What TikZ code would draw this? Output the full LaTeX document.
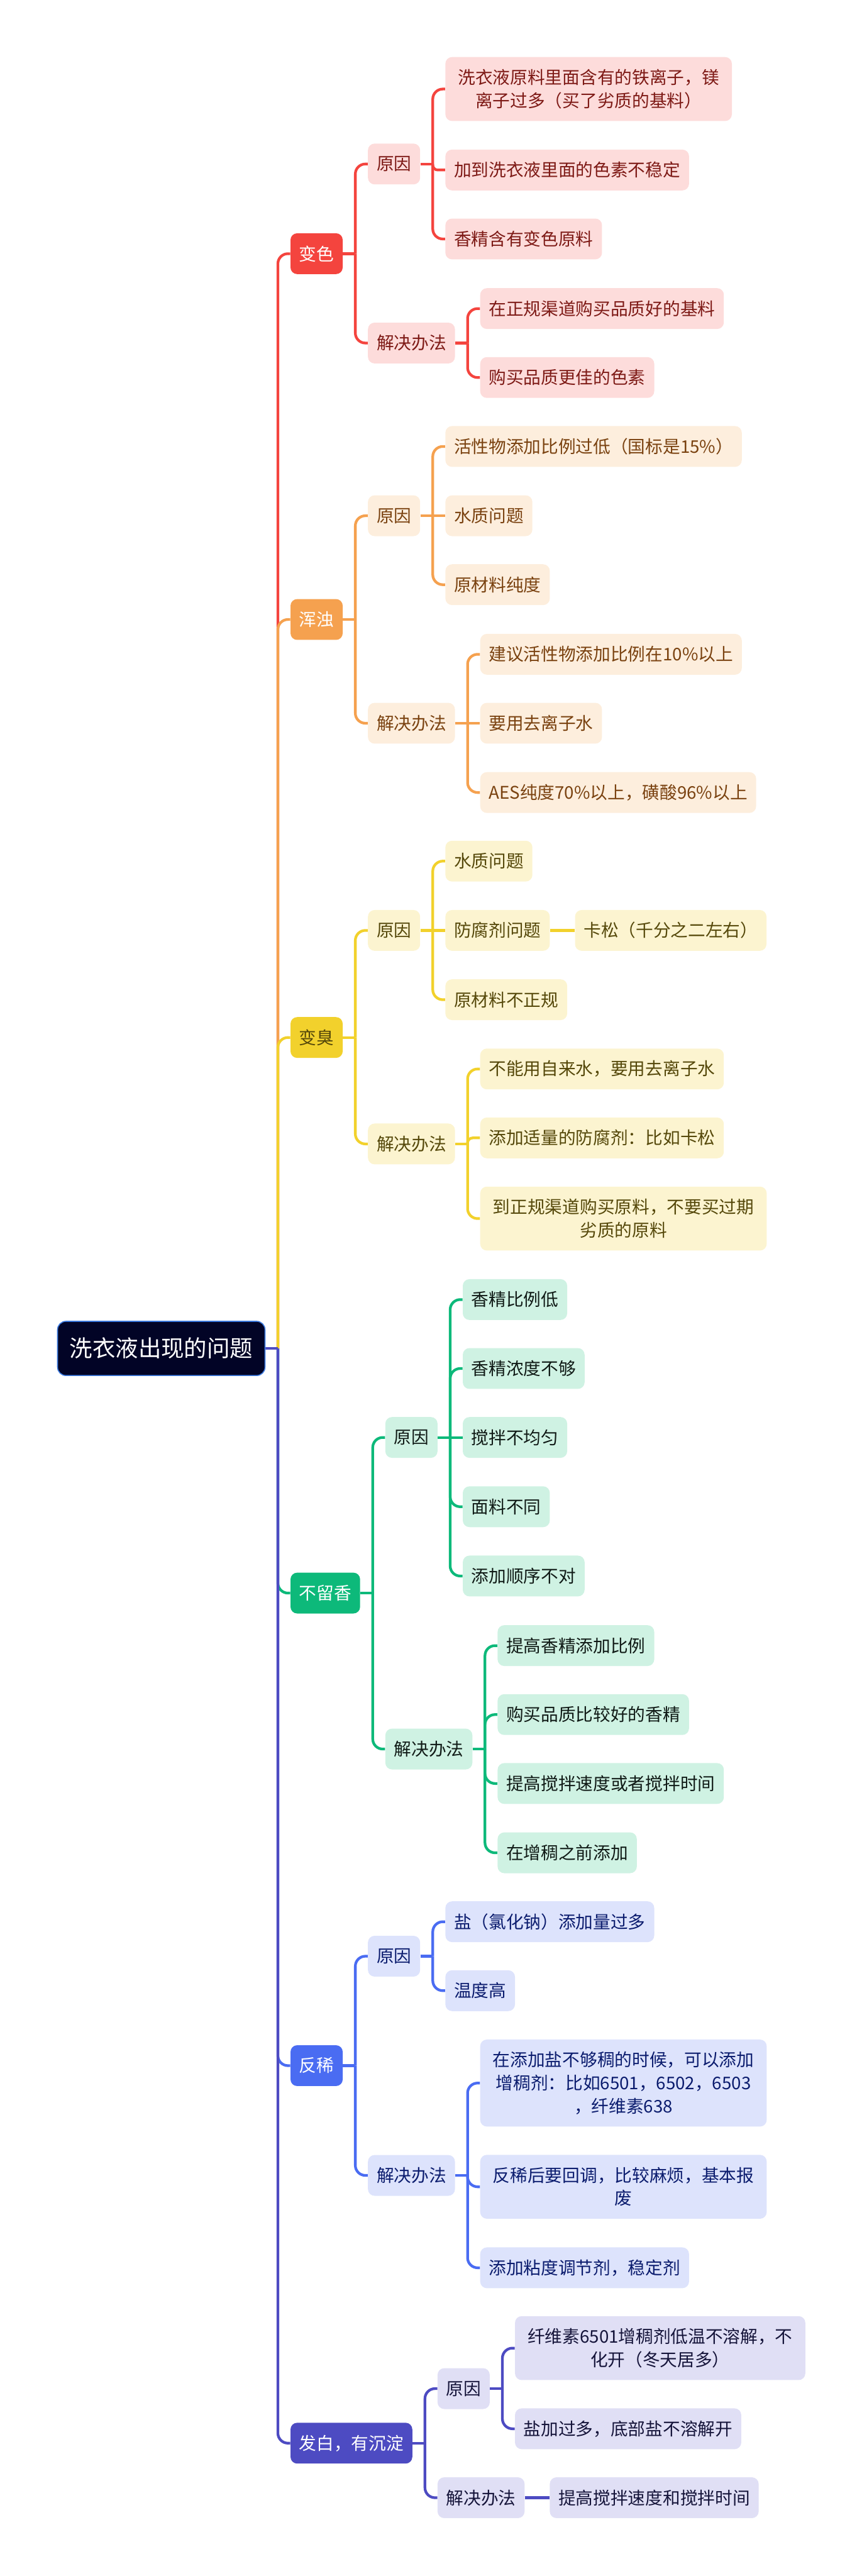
\documentclass[tikz,border=0pt]{standalone}
\usepackage{fontspec}
\setmainfont{Noto Sans CJK SC}
\usetikzlibrary{positioning, backgrounds}

\definecolor{rootbg}{HTML}{020426}
\definecolor{rootrim}{HTML}{3D7BE0}
\definecolor{redmain}{HTML}{F4443E}
\definecolor{redsoft}{HTML}{FDDCDB}
\definecolor{redtext}{HTML}{7E1A16}
\definecolor{orgmain}{HTML}{F5A14F}
\definecolor{orgsoft}{HTML}{FDEEDD}
\definecolor{orgtext}{HTML}{7A4210}
\definecolor{yelmain}{HTML}{F2D12C}
\definecolor{yelsoft}{HTML}{FCF4D0}
\definecolor{yeltext}{HTML}{55480A}
\definecolor{grnmain}{HTML}{0DB97A}
\definecolor{grnsoft}{HTML}{CFF2E3}
\definecolor{grntext}{HTML}{101A16}
\definecolor{blumain}{HTML}{4A6CF2}
\definecolor{blusoft}{HTML}{DDE3FC}
\definecolor{blutext}{HTML}{0B1C6E}
\definecolor{purmain}{HTML}{4D4BC2}
\definecolor{pursoft}{HTML}{E0DFF5}
\definecolor{purtext}{HTML}{15143A}

\newcommand{\mapfont}{\fontsize{14.8pt}{19.6pt}\selectfont}

\begin{document}
\begin{tikzpicture}[
        node distance=0.74cm,
        root/.style={rectangle, rounded corners=0.25cm, fill=rootbg, draw=rootrim, line width=0.03cm, text=white, minimum width=6.2cm, minimum height=1.62cm, font=\fontsize{19.5pt}{24pt}\selectfont},
        box/.style={rectangle, rounded corners=0.2cm, minimum height=1.22cm, inner xsep=0.26cm, inner ysep=0.1cm, align=center, font=\mapfont},
        topic/.style={box, fill=#1, text=white},
        redleaf/.style={box, fill=redsoft, text=redtext},
        orgleaf/.style={box, fill=orgsoft, text=orgtext},
        yelleaf/.style={box, fill=yelsoft, text=yeltext},
        grnleaf/.style={box, fill=grnsoft, text=grntext},
        bluleaf/.style={box, fill=blusoft, text=blutext},
        purleaf/.style={box, fill=pursoft, text=purtext},
        two/.style={minimum height=1.91cm, inner xsep=0.38cm},
        three/.style={minimum height=2.6cm, inner xsep=0.38cm},
        link/.style={draw=#1, line width=0.08cm},
        bend/.style={link=#1, rounded corners=0.3cm},
        hub/.style={right=0.37cm of #1}
    ]
        \useasboundingbox (0,0) rectangle (25.6,-76.97);

        \node[root] (wash) at (4.82,-40.29) {洗衣液出现的问题};

        % 变色
        \node[topic=redmain, right=of wash, yshift=32.71cm] (bs) {变色};
        \node[redleaf, right=of bs, yshift=2.68cm] (bs-yy) {原因};
        \node[redleaf, right=of bs, yshift=-2.67cm] (bs-jj) {解决办法};
        \node[redleaf, two, right=of bs-yy, yshift=2.24cm] (bs-yy1) {洗衣液原料里面含有的铁离子，镁\\离子过多（买了劣质的基料）};
        \node[redleaf, right=of bs-yy, yshift=-0.18cm] (bs-yy2) {加到洗衣液里面的色素不稳定};
        \node[redleaf, right=of bs-yy, yshift=-2.24cm] (bs-yy3) {香精含有变色原料};
        \node[redleaf, right=of bs-jj, yshift=1.03cm] (bs-jj1) {在正规渠道购买品质好的基料};
        \node[redleaf, right=of bs-jj, yshift=-1.03cm] (bs-jj2) {购买品质更佳的色素};

        % 浑浊
        \node[topic=orgmain, right=of wash, yshift=21.78cm] (hz) {浑浊};
        \node[orgleaf, right=of hz, yshift=3.10cm] (hz-yy) {原因};
        \node[orgleaf, right=of hz, yshift=-3.10cm] (hz-jj) {解决办法};
        \node[orgleaf, right=of hz-yy, yshift=2.07cm] (hz-yy1) {活性物添加比例过低（国标是15\%）};
        \node[orgleaf, right=of hz-yy] (hz-yy2) {水质问题};
        \node[orgleaf, right=of hz-yy, yshift=-2.06cm] (hz-yy3) {原材料纯度};
        \node[orgleaf, right=of hz-jj, yshift=2.06cm] (hz-jj1) {建议活性物添加比例在10\%以上};
        \node[orgleaf, right=of hz-jj] (hz-jj2) {要用去离子水};
        \node[orgleaf, right=of hz-jj, yshift=-2.07cm] (hz-jj3) {AES纯度70\%以上，磺酸96\%以上};

        % 变臭
        \node[topic=yelmain, text=yeltext, right=of wash, yshift=9.29cm] (bc) {变臭};
        \node[yelleaf, right=of bc, yshift=3.20cm] (bc-yy) {原因};
        \node[yelleaf, right=of bc, yshift=-3.18cm] (bc-jj) {解决办法};
        \node[yelleaf, right=of bc-yy, yshift=2.07cm] (bc-yy1) {水质问题};
        \node[yelleaf, right=of bc-yy] (bc-yy2) {防腐剂问题};
        \node[yelleaf, right=of bc-yy, yshift=-2.07cm] (bc-yy3) {原材料不正规};
        \node[yelleaf, right=of bc-yy2] (bc-ks) {卡松（千分之二左右）};
        \node[yelleaf, right=of bc-jj, yshift=2.24cm] (bc-jj1) {不能用自来水，要用去离子水};
        \node[yelleaf, right=of bc-jj, yshift=0.18cm] (bc-jj2) {添加适量的防腐剂：比如卡松};
        \node[yelleaf, two, right=of bc-jj, yshift=-2.23cm] (bc-jj3) {到正规渠道购买原料，不要买过期\\劣质的原料};

        % 不留香
        \node[topic=grnmain, right=of wash, yshift=-7.31cm] (blx) {不留香};
        \node[grnleaf, right=of blx, yshift=4.65cm] (blx-yy) {原因};
        \node[grnleaf, right=of blx, yshift=-4.66cm] (blx-jj) {解决办法};
        \node[grnleaf, right=of blx-yy, yshift=4.12cm] (blx-yy1) {香精比例低};
        \node[grnleaf, right=of blx-yy, yshift=2.06cm] (blx-yy2) {香精浓度不够};
        \node[grnleaf, right=of blx-yy] (blx-yy3) {搅拌不均匀};
        \node[grnleaf, right=of blx-yy, yshift=-2.07cm] (blx-yy4) {面料不同};
        \node[grnleaf, right=of blx-yy, yshift=-4.14cm] (blx-yy5) {添加顺序不对};
        \node[grnleaf, right=of blx-jj, yshift=3.09cm] (blx-jj1) {提高香精添加比例};
        \node[grnleaf, right=of blx-jj, yshift=1.03cm] (blx-jj2) {购买品质比较好的香精};
        \node[grnleaf, right=of blx-jj, yshift=-1.03cm] (blx-jj3) {提高搅拌速度或者搅拌时间};
        \node[grnleaf, right=of blx-jj, yshift=-3.10cm] (blx-jj4) {在增稠之前添加};

        % 反稀
        \node[topic=blumain, right=of wash, yshift=-21.43cm] (fx) {反稀};
        \node[bluleaf, right=of fx, yshift=3.27cm] (fx-yy) {原因};
        \node[bluleaf, right=of fx, yshift=-3.28cm] (fx-jj) {解决办法};
        \node[bluleaf, right=of fx-yy, yshift=1.03cm] (fx-yy1) {盐（氯化钠）添加量过多};
        \node[bluleaf, right=of fx-yy, yshift=-1.03cm] (fx-yy2) {温度高};
        \node[bluleaf, three, right=of fx-jj, yshift=2.76cm] (fx-jj1) {在添加盐不够稠的时候，可以添加\\增稠剂：比如6501，6502，6503\\，纤维素638};
        \node[bluleaf, two, right=of fx-jj, yshift=-0.34cm] (fx-jj2) {反稀后要回调，比较麻烦，基本报\\废};
        \node[bluleaf, right=of fx-jj, yshift=-2.76cm] (fx-jj3) {添加粘度调节剂，稳定剂};

        % 发白，有沉淀
        \node[topic=purmain, right=of wash, yshift=-32.71cm] (fb) {发白，有沉淀};
        \node[purleaf, right=of fb, yshift=1.63cm] (fb-yy) {原因};
        \node[purleaf, right=of fb, yshift=-1.63cm] (fb-jj) {解决办法};
        \node[purleaf, two, right=of fb-yy, yshift=1.21cm] (fb-yy1) {纤维素6501增稠剂低温不溶解，不\\化开（冬天居多）};
        \node[purleaf, right=of fb-yy, yshift=-1.20cm] (fb-yy2) {盐加过多，底部盐不溶解开};
        \node[purleaf, right=of fb-jj] (fb-jj1) {提高搅拌速度和搅拌时间};

        \begin{scope}[on background layer]
            \coordinate[hub=wash] (wash-j);

            % 变色
            \draw[bend=redmain] (wash-j) |- (bs.west);
            \coordinate[hub=bs] (bs-j);
            \draw[link=redmain] (bs.east) -- (bs-j);
            \draw[bend=redmain] (bs-j) |- (bs-yy.west);
            \draw[bend=redmain] (bs-j) |- (bs-jj.west);
            \coordinate[hub=bs-yy] (bs-yy-j);
            \draw[link=redmain] (bs-yy.east) -- (bs-yy-j);
            \draw[bend=redmain] (bs-yy-j) |- (bs-yy1.west);
            \draw[bend=redmain, rounded corners=0.15cm] (bs-yy-j) |- (bs-yy2.west);
            \draw[bend=redmain] (bs-yy-j) |- (bs-yy3.west);
            \coordinate[hub=bs-jj] (bs-jj-j);
            \draw[link=redmain] (bs-jj.east) -- (bs-jj-j);
            \foreach \k in {1,2}
                \draw[bend=redmain] (bs-jj-j) |- (bs-jj\k.west);

            % 浑浊
            \draw[bend=orgmain] (wash-j) |- (hz.west);
            \coordinate[hub=hz] (hz-j);
            \draw[link=orgmain] (hz.east) -- (hz-j);
            \draw[bend=orgmain] (hz-j) |- (hz-yy.west);
            \draw[bend=orgmain] (hz-j) |- (hz-jj.west);
            \draw[link=orgmain] (hz-yy.east) -- (hz-yy2.west);
            \coordinate[hub=hz-yy] (hz-yy-j);
            \draw[bend=orgmain] (hz-yy-j) |- (hz-yy1.west);
            \draw[bend=orgmain] (hz-yy-j) |- (hz-yy3.west);
            \draw[link=orgmain] (hz-jj.east) -- (hz-jj2.west);
            \coordinate[hub=hz-jj] (hz-jj-j);
            \draw[bend=orgmain] (hz-jj-j) |- (hz-jj1.west);
            \draw[bend=orgmain] (hz-jj-j) |- (hz-jj3.west);

            % 变臭
            \draw[bend=yelmain] (wash-j) |- (bc.west);
            \coordinate[hub=bc] (bc-j);
            \draw[link=yelmain] (bc.east) -- (bc-j);
            \draw[bend=yelmain] (bc-j) |- (bc-yy.west);
            \draw[bend=yelmain] (bc-j) |- (bc-jj.west);
            \draw[link=yelmain] (bc-yy.east) -- (bc-yy2.west);
            \coordinate[hub=bc-yy] (bc-yy-j);
            \draw[bend=yelmain] (bc-yy-j) |- (bc-yy1.west);
            \draw[bend=yelmain] (bc-yy-j) |- (bc-yy3.west);
            \draw[link=yelmain] (bc-yy2.east) -- (bc-ks.west);
            \coordinate[hub=bc-jj] (bc-jj-j);
            \draw[link=yelmain] (bc-jj.east) -- (bc-jj-j);
            \draw[bend=yelmain] (bc-jj-j) |- (bc-jj1.west);
            \draw[bend=yelmain, rounded corners=0.15cm] (bc-jj-j) |- (bc-jj2.west);
            \draw[bend=yelmain] (bc-jj-j) |- (bc-jj3.west);

            % 不留香
            \draw[bend=grnmain] (wash-j) |- (blx.west);
            \coordinate[hub=blx] (blx-j);
            \draw[link=grnmain] (blx.east) -- (blx-j);
            \draw[bend=grnmain] (blx-j) |- (blx-yy.west);
            \draw[bend=grnmain] (blx-j) |- (blx-jj.west);
            \draw[link=grnmain] (blx-yy.east) -- (blx-yy3.west);
            \coordinate[hub=blx-yy] (blx-yy-j);
            \foreach \k in {1,2,4,5}
                \draw[bend=grnmain] (blx-yy-j) |- (blx-yy\k.west);
            \coordinate[hub=blx-jj] (blx-jj-j);
            \draw[link=grnmain] (blx-jj.east) -- (blx-jj-j);
            \foreach \k in {1,...,4}
                \draw[bend=grnmain] (blx-jj-j) |- (blx-jj\k.west);

            % 反稀
            \draw[bend=blumain] (wash-j) |- (fx.west);
            \coordinate[hub=fx] (fx-j);
            \draw[link=blumain] (fx.east) -- (fx-j);
            \draw[bend=blumain] (fx-j) |- (fx-yy.west);
            \draw[bend=blumain] (fx-j) |- (fx-jj.west);
            \coordinate[hub=fx-yy] (fx-yy-j);
            \draw[link=blumain] (fx-yy.east) -- (fx-yy-j);
            \foreach \k in {1,2}
                \draw[bend=blumain] (fx-yy-j) |- (fx-yy\k.west);
            \coordinate[hub=fx-jj] (fx-jj-j);
            \draw[link=blumain] (fx-jj.east) -- (fx-jj-j);
            \foreach \k in {1,2,3}
                \draw[bend=blumain] (fx-jj-j) |- (fx-jj\k.west);

            % 发白，有沉淀
            \draw[bend=purmain] (wash-j) |- (fb.west);
            \draw[link=purmain] (wash.east) -- (wash-j);
            \coordinate[hub=fb] (fb-j);
            \draw[link=purmain] (fb.east) -- (fb-j);
            \draw[bend=purmain] (fb-j) |- (fb-yy.west);
            \draw[bend=purmain] (fb-j) |- (fb-jj.west);
            \coordinate[hub=fb-yy] (fb-yy-j);
            \draw[link=purmain] (fb-yy.east) -- (fb-yy-j);
            \foreach \k in {1,2}
                \draw[bend=purmain] (fb-yy-j) |- (fb-yy\k.west);
            \draw[link=purmain] (fb-jj.east) -- (fb-jj1.west);
        \end{scope}
    \end{tikzpicture}
\end{document}
